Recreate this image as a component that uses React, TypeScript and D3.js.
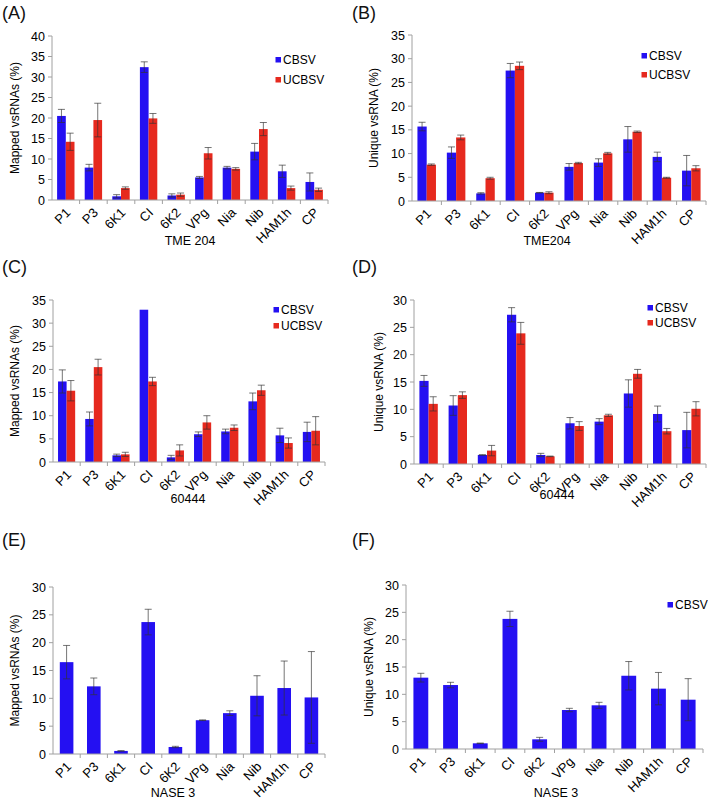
import React from "react";
import * as d3 from "d3";

const genes = ["P1", "P3", "6K1", "CI", "6K2", "VPg", "Nia", "Nib", "HAM1h", "CP"];
const seriesNames = ["CBSV", "UCBSV"];

// (A) TME 204 mapped vsRNAs
const aCBSV = [20.5, 7.9, 0.9, 32.4, 1.1, 5.5, 7.9, 11.8, 7.0, 4.4];
const aCBSVErr = [1.6, 0.8, 0.4, 1.3, 0.4, 0.25, 0.3, 2.0, 1.5, 2.2];
const aUCBSV = [14.2, 19.5, 2.9, 19.9, 1.3, 11.4, 7.6, 17.3, 2.9, 2.5];
const aUCBSVErr = [2.1, 4.1, 0.3, 1.2, 0.4, 1.4, 0.3, 1.6, 0.5, 0.4];

// (B) TME204 unique vsRNA
const bCBSV = [15.7, 10.2, 1.6, 27.5, 1.75, 7.2, 8.1, 13.0, 9.3, 6.4];
const bCBSVErr = [0.9, 1.2, 0.15, 1.5, 0.05, 0.7, 0.8, 2.7, 1.0, 3.2];
const bUCBSV = [7.66, 13.4, 4.8, 28.5, 1.75, 8.0, 10.05, 14.6, 4.9, 6.9];
const bUCBSVErr = [0.15, 0.5, 0.2, 0.8, 0.2, 0.15, 0.2, 0.15, 0.1, 0.55];

// (C) 60444 mapped vsRNAs
const cCBSV = [17.4, 9.3, 1.44, 32.9, 1.0, 6.0, 6.6, 13.1, 5.75, 6.5];
const cCBSVErr = [2.5, 1.5, 0.26, 0, 0.44, 0.5, 0.5, 1.8, 1.55, 2.1];
const cUCBSV = [15.4, 20.5, 1.65, 17.4, 2.5, 8.55, 7.4, 15.5, 4.1, 6.75];
const cUCBSVErr = [2.2, 1.7, 0.45, 0.9, 1.2, 1.45, 0.6, 1.1, 1.1, 3.05];

// (D) 60444 unique vsRNA
const dCBSV = [15.2, 10.7, 1.65, 27.3, 1.65, 7.45, 7.75, 12.9, 9.15, 6.2];
const dCBSVErr = [1.0, 1.8, 0.05, 1.3, 0.3, 1.05, 0.55, 2.5, 1.45, 3.25];
const dUCBSV = [11.0, 12.6, 2.45, 23.9, 1.4, 6.95, 8.9, 16.5, 6.0, 10.1];
const dUCBSVErr = [1.3, 0.6, 0.95, 2.0, 0.05, 0.8, 0.2, 0.8, 0.5, 1.3];

// (E) NASE 3 mapped vsRNAs
const eCBSV = [16.5, 12.15, 0.55, 23.7, 1.26, 6.07, 7.34, 10.46, 11.85, 10.16];
const eCBSVErr = [3.0, 1.5, 0.05, 2.3, 0.12, 0.06, 0.42, 3.6, 4.85, 8.24];

// (F) NASE 3 unique vsRNA
const fCBSV = [13.05, 11.7, 1.04, 23.8, 1.77, 7.13, 7.99, 13.4, 11.04, 9.02];
const fCBSVErr = [0.8, 0.5, 0.05, 1.4, 0.36, 0.31, 0.55, 2.6, 2.96, 3.85];

const BLUE = "#2410f2";
const RED = "#e6291e";
const AXIS = "#a0a0a0";
const FONT = "'Liberation Sans', Arial, sans-serif";

type Series = { name: string; color: string; values: number[]; errs: number[] };

type PanelCfg = {
  tag: string;
  tagX: number;
  tagY: number;
  x0: number;
  x1: number;
  yTop: number;
  yBot: number;
  yMax: number;
  yTitle: string;
  yTitleX: number;
  xTitle: string;
  xTitleX: number;
  xTitleY: number;
  series: Series[];
  legend: { x: number; y: number; names: string[]; gap: number } | null;
};

const panels: PanelCfg[] = [
  {
    tag: "(A)", tagX: 2, tagY: 19, x0: 52, x1: 328, yTop: 36, yBot: 200, yMax: 40,
    yTitle: "Mapped vsRNAs (%)", yTitleX: 19, xTitle: "TME 204", xTitleX: 190, xTitleY: 245,
    series: [
      { name: seriesNames[0], color: BLUE, values: aCBSV, errs: aCBSVErr },
      { name: seriesNames[1], color: RED, values: aUCBSV, errs: aUCBSVErr },
    ],
    legend: { x: 278, y: 60, names: seriesNames, gap: 20 },
  },
  {
    tag: "(B)", tagX: 352, tagY: 19, x0: 412, x1: 706, yTop: 35, yBot: 201, yMax: 35,
    yTitle: "Unique vsRNA (%)", yTitleX: 378, xTitle: "TME204", xTitleX: 547, xTitleY: 245,
    series: [
      { name: seriesNames[0], color: BLUE, values: bCBSV, errs: bCBSVErr },
      { name: seriesNames[1], color: RED, values: bUCBSV, errs: bUCBSVErr },
    ],
    legend: { x: 644, y: 56, names: seriesNames, gap: 19 },
  },
  {
    tag: "(C)", tagX: 2, tagY: 273, x0: 53, x1: 325, yTop: 300, yBot: 462, yMax: 35,
    yTitle: "Mapped vsRNAs (%)", yTitleX: 19, xTitle: "60444", xTitleX: 188, xTitleY: 503,
    series: [
      { name: seriesNames[0], color: BLUE, values: cCBSV, errs: cCBSVErr },
      { name: seriesNames[1], color: RED, values: cUCBSV, errs: cUCBSVErr },
    ],
    legend: { x: 276, y: 310, names: seriesNames, gap: 16 },
  },
  {
    tag: "(D)", tagX: 352, tagY: 273, x0: 414, x1: 706, yTop: 300, yBot: 464, yMax: 30,
    yTitle: "Unique vsRNA (%)", yTitleX: 383, xTitle: "60444", xTitleX: 557, xTitleY: 499,
    series: [
      { name: seriesNames[0], color: BLUE, values: dCBSV, errs: dCBSVErr },
      { name: seriesNames[1], color: RED, values: dUCBSV, errs: dUCBSVErr },
    ],
    legend: { x: 650, y: 308, names: seriesNames, gap: 15 },
  },
  {
    tag: "(E)", tagX: 2, tagY: 546, x0: 53, x1: 325, yTop: 587, yBot: 754, yMax: 30,
    yTitle: "Mapped vsRNAs (%)", yTitleX: 19, xTitle: "NASE 3", xTitleX: 173, xTitleY: 797,
    series: [{ name: seriesNames[0], color: BLUE, values: eCBSV, errs: eCBSVErr }],
    legend: null,
  },
  {
    tag: "(F)", tagX: 352, tagY: 546, x0: 406, x1: 703, yTop: 585, yBot: 749, yMax: 30,
    yTitle: "Unique vsRNA (%)", yTitleX: 373, xTitle: "NASE 3", xTitleX: 556, xTitleY: 797,
    series: [{ name: seriesNames[0], color: BLUE, values: fCBSV, errs: fCBSVErr }],
    legend: { x: 670, y: 605, names: [seriesNames[0]], gap: 16 },
  },
];

function Panel({ p }: { p: PanelCfg }) {
  const x = d3.scaleBand<string>().domain(genes).range([p.x0, p.x1]).padding(0);
  const y = d3.scaleLinear().domain([0, p.yMax]).range([p.yBot, p.yTop]);
  const band = x.bandwidth();
  const groupW = p.series.length > 1 ? band * 0.63 : band * 0.5;
  const inner = d3
    .scaleBand<string>()
    .domain(p.series.map((s) => s.name))
    .range([0, groupW])
    .padding(0);
  const ticks = d3.range(0, p.yMax + 0.001, 5);
  const capW = 3.5;
  return (
    <g>
      <text x={p.tagX} y={p.tagY} fontFamily={FONT} fontSize={18} fill="#111">
        {p.tag}
      </text>
      {p.series.map((s) =>
        genes.map((g, i) => {
          const bx = (x(g) as number) + band / 2 - groupW / 2 + (inner(s.name) as number);
          const bw = inner.bandwidth();
          return (
            <rect
              key={s.name + g}
              x={bx}
              y={y(s.values[i])}
              width={bw}
              height={p.yBot - y(s.values[i])}
              fill={s.color}
            />
          );
        })
      )}
      {p.series.map((s) =>
        genes.map((g, i) => {
          const cx = (x(g) as number) + band / 2 - groupW / 2 + (inner(s.name) as number) + inner.bandwidth() / 2;
          const e = s.errs[i];
          if (e <= 0) return null;
          const yt = y(s.values[i] + e);
          const yb = y(Math.max(0, s.values[i] - e));
          return (
            <g key={"e" + s.name + g} stroke="#333" strokeWidth={0.8} strokeOpacity={0.85}>
              <line x1={cx} x2={cx} y1={yt} y2={yb} />
              <line x1={cx - capW} x2={cx + capW} y1={yt} y2={yt} />
              <line x1={cx - capW} x2={cx + capW} y1={yb} y2={yb} />
            </g>
          );
        })
      )}
      <line x1={p.x0} x2={p.x0} y1={p.yTop} y2={p.yBot} stroke={AXIS} strokeWidth={1} />
      {ticks.map((t) => (
        <g key={"yt" + t}>
          <line x1={p.x0 - 4} x2={p.x0} y1={y(t)} y2={y(t)} stroke={AXIS} strokeWidth={1} />
          <text
            x={p.x0 - 7}
            y={y(t)}
            dy="0.36em"
            textAnchor="end"
            fontFamily={FONT}
            fontSize={12.5}
            fill="#000"
          >
            {t}
          </text>
        </g>
      ))}
      <line x1={p.x0} x2={p.x1} y1={p.yBot} y2={p.yBot} stroke={AXIS} strokeWidth={1} />
      {genes.map((g) => (
        <line
          key={"xt" + g}
          x1={(x(g) as number) + band}
          x2={(x(g) as number) + band}
          y1={p.yBot}
          y2={p.yBot + 4}
          stroke={AXIS}
          strokeWidth={1}
        />
      ))}
      {genes.map((g) => {
        const cx = (x(g) as number) + band / 2 - 1;
        const ty = p.yBot + 7;
        return (
          <text
            key={"xl" + g}
            transform={`translate(${cx},${ty}) rotate(-45)`}
            textAnchor="end"
            dy="0.7em"
            fontFamily={FONT}
            fontSize={13}
            fill="#000"
          >
            {g}
          </text>
        );
      })}
      <text x={p.xTitleX} y={p.xTitleY} textAnchor="middle" fontFamily={FONT} fontSize={12.5} fill="#000">
        {p.xTitle}
      </text>
      <text
        transform={`translate(${p.yTitleX},${(p.yTop + p.yBot) / 2}) rotate(-90)`}
        textAnchor="middle"
        fontFamily={FONT}
        fontSize={12}
        fill="#000"
      >
        {p.yTitle}
      </text>
      {p.legend &&
        p.legend.names.map((n, i) => {
          const s = p.series.find((ss) => ss.name === n)!;
          const ly = p.legend!.y + i * p.legend!.gap;
          return (
            <g key={"lg" + n}>
              <rect x={p.legend!.x - 2.5} y={ly - 3} width={5.5} height={5.5} fill={s.color} />
              <text x={p.legend!.x + 5} y={ly} dy="0.36em" fontFamily={FONT} fontSize={12} fill="#000">
                {n}
              </text>
            </g>
          );
        })}
    </g>
  );
}

export default function App() {
  return (
    <svg
      width={708}
      height={800}
      style={{ position: "absolute", left: 0, top: 0, background: "#fff" }}
    >
      <rect width={708} height={800} fill="#fff" />
      {panels.map((p) => (
        <Panel key={p.tag} p={p} />
      ))}
    </svg>
  );
}
